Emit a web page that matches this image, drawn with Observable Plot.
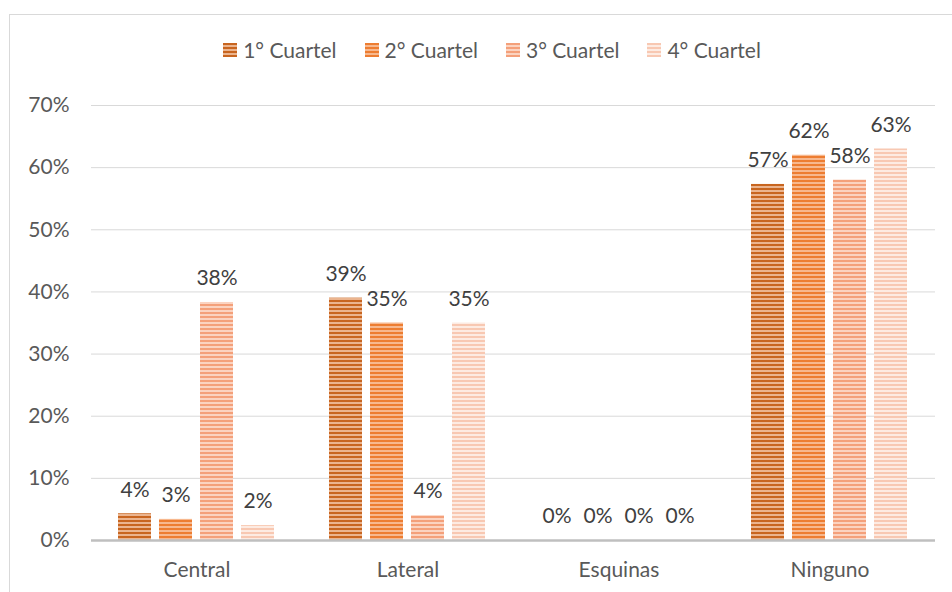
<!DOCTYPE html>
<html>
<head>
<meta charset="utf-8">
<script src="https://cdn.jsdelivr.net/npm/d3@7"></script>
<script src="https://cdn.jsdelivr.net/npm/@observablehq/plot@0.6"></script>
<style>
  body { margin: 0; background: #fff; font-family: Lato, "Open Sans", sans-serif; }
  #wrap { position: relative; width: 952px; height: 592px; overflow: hidden; }
  #frame { position: absolute; left: 9px; top: 14px; width: 980px; height: 620px; border: 1px solid #d9d9d9; box-sizing: border-box; }
  #legend { position: relative; height: 80px; width: 984px; display: flex; justify-content: center; align-items: flex-start; padding-top: 37px; box-sizing: border-box; font-size: 21px; color: #595959; }
  .item { display: flex; align-items: center; margin: 0 14px; white-space: nowrap; }
  .sw { width: 14px; height: 14px; margin-right: 6px; }
  #chart { position: relative; }
</style>
</head>
<body>
<div id="wrap">
  <div id="frame"></div>
  <div id="legend"></div>
  <div id="chart"></div>
</div>
<script>
const categories = ["Central", "Lateral", "Esquinas", "Ninguno"];
const series = ["1° Cuartel", "2° Cuartel", "3° Cuartel", "4° Cuartel"];
const q1 = [0.043, 0.390, 0, 0.573];
const q2 = [0.034, 0.350, 0, 0.620];
const q3 = [0.383, 0.040, 0, 0.580];
const q4 = [0.024, 0.350, 0, 0.630];
const yTicks = [0, 0.1, 0.2, 0.3, 0.4, 0.5, 0.6, 0.7];
const stripeDark = ["#c8651f", "#ed7d31", "#f4a07a", "#f8c8b2"];
const stripeLight = ["#ebb48e", "#f7b88e", "#fbd3c0", "#fdebe2"];

const valuesBySeries = [q1, q2, q3, q4];
const data = [];
series.forEach((s, i) => categories.forEach((c, j) => data.push({cat: c, ser: s, si: i, v: valuesBySeries[i][j]})));

// legend
const leg = document.getElementById("legend");
series.forEach((s, i) => {
  const it = document.createElement("div");
  it.className = "item";
  const sw = document.createElement("div");
  sw.className = "sw";
  sw.style.background = `repeating-linear-gradient(to bottom, ${stripeDark[i]} 0px, ${stripeDark[i]} 2px, ${stripeLight[i]} 2px, ${stripeLight[i]} 4px)`;
  it.appendChild(sw);
  const t = document.createElement("span");
  t.textContent = s;
  it.appendChild(t);
  leg.appendChild(it);
});

const fmt = d3.format(".0%");
const barMarks = series.map((s, i) =>
  Plot.barY(data.filter(d => d.si === i), {fx: "cat", x: "ser", y: "v", fill: `url(#pat${i})`, inset: 0})
);

const svg = Plot.plot({
  width: 952,
  height: 512,
  marginTop: 25,
  marginBottom: 52,
  marginLeft: 90,
  marginRight: 17,
  style: {fontFamily: "Lato, 'Open Sans', sans-serif", fontSize: "21px", color: "#595959", background: "transparent"},
  fx: {domain: categories, padding: 0, label: null},
  x: {domain: series, paddingInner: 0.195, paddingOuter: 0.67, axis: null},
  y: {domain: [0, 0.7], label: null},
  marks: [
    Plot.gridY(yTicks, {stroke: "#d9d9d9", strokeOpacity: 1, strokeWidth: 1}),
    Plot.axisY(yTicks, {tickFormat: fmt, tickSize: 0, tickPadding: 22, fill: "#595959", fontSize: 21, label: null}),
    Plot.axisFx({anchor: "bottom", tickSize: 0, tickPadding: 22, fill: "#595959", fontSize: 21, label: null}),
    ...barMarks,
    Plot.ruleY([0], {stroke: "#bfbfbf", strokeWidth: 2.5}),
    Plot.text(data, {fx: "cat", x: "ser", y: "v", text: d => fmt(d.v), dy: -24, fill: "#404040", fontSize: 21, lineAnchor: "middle"})
  ]
});

const ns = "http://www.w3.org/2000/svg";
const defs = document.createElementNS(ns, "defs");
series.forEach((s, i) => {
  const p = document.createElementNS(ns, "pattern");
  p.setAttribute("id", `pat${i}`);
  p.setAttribute("patternUnits", "userSpaceOnUse");
  p.setAttribute("width", "8");
  p.setAttribute("height", "4");
  const r1 = document.createElementNS(ns, "rect");
  r1.setAttribute("width", "8"); r1.setAttribute("height", "4"); r1.setAttribute("fill", stripeLight[i]);
  const r2 = document.createElementNS(ns, "rect");
  r2.setAttribute("width", "8"); r2.setAttribute("height", "2"); r2.setAttribute("fill", stripeDark[i]);
  p.appendChild(r1); p.appendChild(r2);
  defs.appendChild(p);
});
svg.insertBefore(defs, svg.firstChild);
document.getElementById("chart").appendChild(svg);
</script>
</body>
</html>
